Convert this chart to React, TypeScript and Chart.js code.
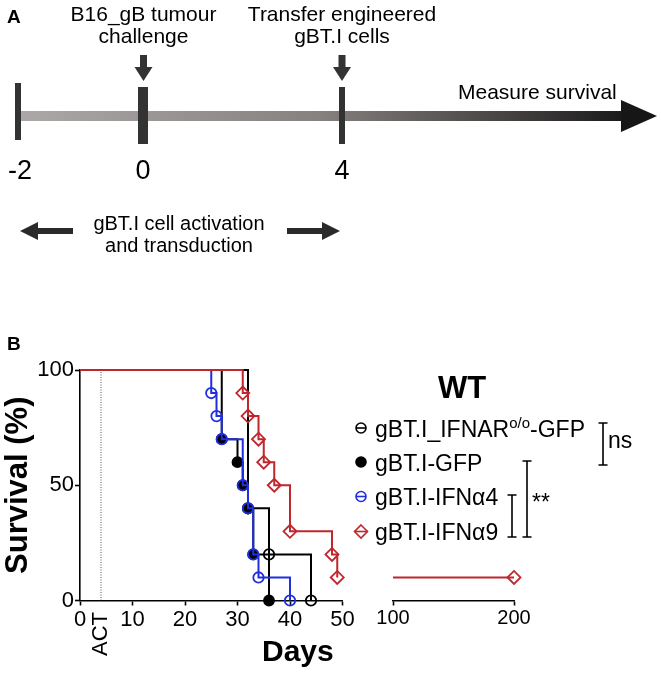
import React, { useEffect, useRef } from 'react';
import { Chart, registerables } from 'chart.js';

Chart.register(...registerables);

const FONT = "'Liberation Sans', Arial, Helvetica, sans-serif";
Chart.defaults.font.family = FONT;
Chart.defaults.color = '#000';

// ---------------- Panel A: schematic timeline ----------------
const TIMELINE_LABELS = ['-2', '0', '4'];
const TIMELINE_POS = [18, 143, 342]; // schematic positions along the timeline
const EVENT_LINES = [
  ['B16_gB tumour', 'challenge'],
  ['Transfer engineered', 'gBT.I cells'],
];
const EVENT_POS = [143.5, 342];
const PHASE_LINES = ['gBT.I cell activation', 'and transduction'];
const OUTCOME_TEXT = 'Measure survival';

// ---------------- Panel B: Kaplan–Meier survival ----------------
const IFNAR_GFP_DAYS = [0, 32, 36, 44];
const IFNAR_GFP_SURV = [100, 40, 20, 0];
const GFP_DAYS = [0, 27, 30, 31, 32, 33, 36];
const GFP_SURV = [100, 70, 60, 50, 40, 20, 0];
const IFNA4_DAYS = [0, 25, 26, 27, 31, 32, 33, 34, 40];
const IFNA4_SURV = [100, 90, 80, 70, 50, 40, 20, 10, 0];
const IFNA9_DAYS = [0, 31, 32, 34, 35, 37, 40, 48, 49];
const IFNA9_SURV = [100, 90, 80, 70, 60, 50, 30, 20, 10];
const IFNA9_LATE_DAYS = [100, 200];
const IFNA9_LATE_SURV = [10, 10];
const ACT_DAY = 4;
const X_TICKS_MAIN = [0, 10, 20, 30, 40, 50];
const X_TICKS_LATE = [100, 200];
const Y_TICKS = [0, 50, 100];
const X_TITLE = 'Days';

const LEGEND_TITLE = 'WT';
const LEGEND_LABELS = [
  ['gBT.I_IFNAR', 'o/o', '-GFP'],
  ['gBT.I-GFP'],
  ['gBT.I-IFNα4'],
  ['gBT.I-IFNα9'],
];

const BLACK = '#000000';
const BLUE = '#1f2fe0';
const RED = '#c0262c';

const pts = (xs: number[], ys: number[]) => xs.map((x, i) => ({ x, y: ys[i] }));

function kmDataset(label: string, days: number[], surv: number[], color: string, style: string, filled: boolean, order: number, radius: number) {
  return {
    label,
    data: pts(days, surv),
    borderColor: color,
    borderWidth: 2,
    stepped: true,
    tension: 0,
    fill: false,
    pointStyle: style,
    pointRadius: days.map((_, i) => (i === 0 ? 0 : radius)),
    pointHoverRadius: days.map((_, i) => (i === 0 ? 0 : radius)),
    pointBorderColor: color,
    pointBackgroundColor: filled ? color : 'rgba(0,0,0,0)',
    pointBorderWidth: 1.8,
    order,
    clip: false as any,
  };
}

const panelAPlugin = {
  id: 'panelA',
  afterDraw(chart: any) {
    const { ctx } = chart;
    const sx = chart.scales.x;
    const sy = chart.scales.y;
    const X = (v: number) => sx.getPixelForValue(v);
    const Y = (v: number) => sy.getPixelForValue(v);
    ctx.save();
    ctx.textBaseline = 'alphabetic';

    // panel letter
    ctx.fillStyle = '#000';
    ctx.font = `bold 19px ${FONT}`;
    ctx.textAlign = 'left';
    ctx.fillText('A', X(7), Y(23));

    // gradient bar
    const x0 = X(TIMELINE_POS[0]);
    const x1 = X(624);
    const grad = ctx.createLinearGradient(x0, 0, x1, 0);
    grad.addColorStop(0, '#aca8a8');
    grad.addColorStop(0.5, '#86807f');
    grad.addColorStop(0.85, '#3c3939');
    grad.addColorStop(1, '#1a1a1a');
    ctx.fillStyle = grad;
    ctx.fillRect(x0, Y(111), x1 - x0, Y(121) - Y(111));
    // arrow head
    ctx.fillStyle = '#161616';
    ctx.beginPath();
    ctx.moveTo(X(621), Y(100));
    ctx.lineTo(X(657), Y(116));
    ctx.lineTo(X(621), Y(132));
    ctx.closePath();
    ctx.fill();

    // ticks
    const tickW = [6, 10, 6];
    const tickTop = [83, 87, 87];
    const tickBottom = [140, 144, 144];
    ctx.fillStyle = '#333';
    TIMELINE_POS.forEach((p, i) => {
      ctx.fillRect(X(p) - tickW[i] / 2, Y(tickTop[i]), tickW[i], Y(tickBottom[i]) - Y(tickTop[i]));
    });
    // tick labels
    ctx.fillStyle = '#000';
    ctx.font = `27px ${FONT}`;
    ctx.textAlign = 'center';
    TIMELINE_LABELS.forEach((t, i) => {
      ctx.fillText(t, X(TIMELINE_POS[i]) + (i === 0 ? 2 : 0), Y(179));
    });

    // event labels + down arrows
    ctx.font = `21px ${FONT}`;
    EVENT_LINES.forEach((lines, i) => {
      const cx = X(EVENT_POS[i]);
      lines.forEach((ln, j) => ctx.fillText(ln, cx, Y(21 + j * 22)));
      ctx.fillStyle = '#333';
      ctx.fillRect(cx - 3.5, Y(55), 7, Y(67) - Y(55));
      ctx.beginPath();
      ctx.moveTo(cx - 9, Y(67));
      ctx.lineTo(cx + 9, Y(67));
      ctx.lineTo(cx, Y(81));
      ctx.closePath();
      ctx.fill();
      ctx.fillStyle = '#000';
    });

    // outcome text
    ctx.textAlign = 'left';
    ctx.fillText(OUTCOME_TEXT, X(458), Y(99));

    // phase text + horizontal arrows
    ctx.font = `20px ${FONT}`;
    ctx.textAlign = 'center';
    PHASE_LINES.forEach((ln, j) => ctx.fillText(ln, X(179), Y(230 + j * 22)));
    ctx.fillStyle = '#2a2a2a';
    const ay = Y(231);
    // left arrow
    ctx.fillRect(X(37), ay - 3, X(73) - X(37), 6);
    ctx.beginPath();
    ctx.moveTo(X(38), ay - 9);
    ctx.lineTo(X(20), ay);
    ctx.lineTo(X(38), ay + 9);
    ctx.closePath();
    ctx.fill();
    // right arrow
    ctx.fillRect(X(287), ay - 3, X(323) - X(287), 6);
    ctx.beginPath();
    ctx.moveTo(X(322), ay - 9);
    ctx.lineTo(X(340), ay);
    ctx.lineTo(X(322), ay + 9);
    ctx.closePath();
    ctx.fill();
    ctx.restore();
  },
};

const actPlugin = {
  id: 'actLabel',
  afterDraw(chart: any) {
    const { ctx } = chart;
    const sx = chart.scales.x;
    const x = sx.getPixelForValue(ACT_DAY);
    ctx.save();
    ctx.fillStyle = '#000';
    // panel letter B
    ctx.font = `bold 19px ${FONT}`;
    ctx.textAlign = 'left';
    ctx.textBaseline = 'alphabetic';
    ctx.fillText('B', 7, 30);
    // axis title
    ctx.font = `bold 30px ${FONT}`;
    ctx.textAlign = 'center';
    ctx.textBaseline = 'middle';
    ctx.fillText(X_TITLE, sx.getPixelForValue(41.5), chart.chartArea.bottom + 52);
    // ACT
    ctx.translate(x, chart.chartArea.bottom + 33.5);
    ctx.rotate(-Math.PI / 2);
    ctx.font = `22px ${FONT}`;
    ctx.fillText('ACT', 0, 0);
    ctx.restore();
  },
};

function drawSymbol(ctx: any, kind: string, x: number, y: number, color: string) {
  ctx.save();
  ctx.strokeStyle = color;
  ctx.fillStyle = color;
  ctx.lineWidth = 1.6;
  if (kind === 'diamond') {
    const r = 6.5;
    ctx.beginPath();
    ctx.moveTo(x, y - r);
    ctx.lineTo(x + r, y);
    ctx.lineTo(x, y + r);
    ctx.lineTo(x - r, y);
    ctx.closePath();
    ctx.stroke();
    ctx.beginPath();
    ctx.moveTo(x - r, y);
    ctx.lineTo(x + r, y);
    ctx.stroke();
  } else {
    const r = 5;
    ctx.beginPath();
    ctx.arc(x, y, r, 0, Math.PI * 2);
    if (kind === 'filled') ctx.fill();
    ctx.stroke();
    ctx.beginPath();
    ctx.moveTo(x - r, y);
    ctx.lineTo(x + r, y);
    ctx.stroke();
  }
  ctx.restore();
}

const legendPlugin = {
  id: 'legendB',
  afterDraw(chart: any) {
    const { ctx } = chart;
    ctx.save();
    ctx.fillStyle = '#000';
    ctx.textBaseline = 'alphabetic';
    ctx.font = `bold 31px ${FONT}`;
    ctx.textAlign = 'center';
    ctx.fillText(LEGEND_TITLE, 122, 78);

    const baselines = [116.5, 150.5, 185, 220];
    const kinds = ['open', 'filled', 'open', 'diamond'];
    const colors = [BLACK, BLACK, BLUE, RED];
    ctx.textAlign = 'left';
    LEGEND_LABELS.forEach((parts, i) => {
      const by = baselines[i];
      drawSymbol(ctx, kinds[i], 21, by - 8.5, colors[i]);
      let x = 35;
      ctx.fillStyle = '#000';
      parts.forEach((p, j) => {
        const sup = parts.length === 3 && j === 1;
        ctx.font = sup ? `15px ${FONT}` : `23px ${FONT}`;
        ctx.fillText(p, x, sup ? by - 9 : by);
        x += ctx.measureText(p).width;
      });
    });

    // significance brackets
    ctx.strokeStyle = '#000';
    ctx.lineWidth = 1.6;
    const bracket = (x: number, y0: number, y1: number) => {
      ctx.beginPath();
      ctx.moveTo(x - 4.5, y0);
      ctx.lineTo(x + 4.5, y0);
      ctx.moveTo(x, y0);
      ctx.lineTo(x, y1);
      ctx.moveTo(x - 4.5, y1);
      ctx.lineTo(x + 4.5, y1);
      ctx.stroke();
    };
    bracket(263, 103, 145);
    bracket(172, 175, 217);
    bracket(187, 141, 217);
    ctx.font = `23px ${FONT}`;
    ctx.fillText('ns', 268, 128);
    ctx.fillText('**', 192, 190);
    ctx.restore();
  },
};

const axisCommon = {
  border: { display: true, color: '#000', width: 1.6 },
  grid: { display: true, drawOnChartArea: false, drawTicks: true, tickLength: 5, color: '#000', tickWidth: 1.6 },
};

export default function App() {
  const aRef = useRef<HTMLCanvasElement>(null);
  const bRef = useRef<HTMLCanvasElement>(null);
  const cRef = useRef<HTMLCanvasElement>(null);

  useEffect(() => {
    const charts: Chart[] = [];

    charts.push(
      new Chart(aRef.current as HTMLCanvasElement, {
        type: 'line',
        data: { datasets: [] },
        options: {
          responsive: false,
          animation: false,
          layout: { padding: 0 },
          plugins: { legend: { display: false }, tooltip: { enabled: false } },
          scales: {
            x: { type: 'linear', min: 0, max: 661, display: false },
            y: { type: 'linear', min: 0, max: 260, reverse: true, display: false },
          },
        },
        plugins: [panelAPlugin],
      } as any)
    );

    charts.push(
      new Chart(bRef.current as HTMLCanvasElement, {
        type: 'line',
        data: {
          datasets: [
            kmDataset('gBT.I-IFNα9', IFNA9_DAYS, IFNA9_SURV, RED, 'rectRot', false, 1, 6.5),
            kmDataset('gBT.I-IFNα4', IFNA4_DAYS, IFNA4_SURV, BLUE, 'circle', false, 2, 5.2),
            kmDataset('gBT.I-GFP', GFP_DAYS, GFP_SURV, BLACK, 'circle', true, 3, 5),
            kmDataset('gBT.I_IFNARo/o-GFP', IFNAR_GFP_DAYS, IFNAR_GFP_SURV, BLACK, 'circle', false, 4, 5.2),
            {
              label: 'ACT',
              data: [{ x: ACT_DAY, y: Y_TICKS[0] }, { x: ACT_DAY, y: Y_TICKS[Y_TICKS.length - 1] }],
              borderColor: '#555',
              borderWidth: 1,
              borderDash: [1, 1.5],
              pointRadius: 0,
              order: 10,
            },
          ],
        },
        options: {
          responsive: false,
          animation: false,
          layout: { padding: { top: 50, right: 17.5, left: 0, bottom: 0 } },
          plugins: { legend: { display: false }, tooltip: { enabled: false } },
          scales: {
            x: {
              type: 'linear',
              min: 0,
              max: 50,
              ...axisCommon,
              afterFit: (s: any) => { s.height = 73.5; },
              afterBuildTicks: (s: any) => { s.ticks = X_TICKS_MAIN.map((v) => ({ value: v })); },
              ticks: { font: { size: 22 }, color: '#000', padding: 1, autoSkip: false, maxRotation: 0 },
              title: { display: false },
            },
            y: {
              type: 'linear',
              min: 0,
              max: 100,
              ...axisCommon,
              afterFit: (s: any) => { s.width = 80; },
              afterBuildTicks: (s: any) => { s.ticks = Y_TICKS.map((v) => ({ value: v })); },
              ticks: { font: { size: 22 }, color: '#000', padding: 1, autoSkip: false },
              title: { display: true, text: 'Survival (%)', font: { size: 31, weight: 'bold' }, color: '#000', padding: { top: 0, bottom: 0 } },
            },
          },
        },
        plugins: [actPlugin],
      } as any)
    );

    charts.push(
      new Chart(cRef.current as HTMLCanvasElement, {
        type: 'line',
        data: {
          datasets: [
            {
              ...kmDataset('gBT.I-IFNα9', IFNA9_LATE_DAYS, IFNA9_LATE_SURV, RED, 'rectRot', false, 1, 6.5),
              stepped: false,
            },
          ],
        },
        options: {
          responsive: false,
          animation: false,
          layout: { padding: { top: 50, right: 147, left: 53, bottom: 0 } },
          plugins: { legend: { display: false }, tooltip: { enabled: false } },
          scales: {
            x: {
              type: 'linear',
              min: 100,
              max: 200,
              ...axisCommon,
              afterFit: (s: any) => { s.height = 73.5; },
              afterBuildTicks: (s: any) => { s.ticks = X_TICKS_LATE.map((v) => ({ value: v })); },
              ticks: { font: { size: 20 }, color: '#000', padding: 1, autoSkip: false, maxRotation: 0 },
            },
            y: { type: 'linear', min: 0, max: 100, display: false },
          },
        },
        plugins: [legendPlugin],
      } as any)
    );

    return () => charts.forEach((c) => c.destroy());
  }, []);

  const abs = (left: number, top: number, width: number, height: number): React.CSSProperties => ({
    position: 'absolute', left, top, width, height,
  });

  return (
    <div style={{ position: 'absolute', left: 0, top: 0, width: 661, height: 674, background: '#fff' }}>
      <canvas ref={aRef} width={661} height={260} style={abs(0, 0, 661, 260)} />
      <canvas ref={bRef} width={360} height={354} style={abs(0, 320, 360, 354)} />
      <canvas ref={cRef} width={321} height={354} style={abs(340, 320, 321, 354)} />
    </div>
  );
}
